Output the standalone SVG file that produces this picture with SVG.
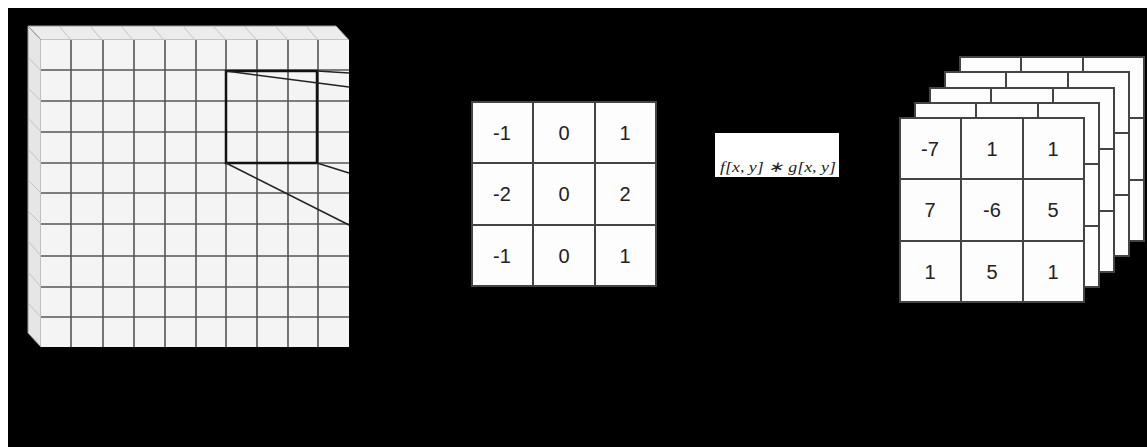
<svg xmlns="http://www.w3.org/2000/svg" width="1147" height="447" viewBox="0 0 1147 447">
<style>
.grid{stroke:#555;stroke-width:1.6;fill:none}
.faint{stroke:#c4c4c4;stroke-width:1;fill:none}
.cell{fill:#fdfdfd;stroke:#444;stroke-width:2}
.num{font-family:"Liberation Sans",Arial,sans-serif;font-size:20px;fill:#222;text-anchor:middle;dominant-baseline:central}
.conn{stroke:#222;stroke-width:1.5;fill:none}
</style>
<defs>
<g id="grid3">
<rect x="0" y="0" width="184" height="184" class="cell"/>
<path d="M61 0V184M123 0V184M0 61H184M0 123H184" style="stroke:#444;stroke-width:2;fill:none"/>
</g>
</defs>
<rect x="0" y="0" width="1147" height="447" fill="#fff"/>
<rect x="8" y="8" width="1139" height="439" fill="#000"/>

<g id="input-volume">
<polygon points="28,26 336,26 349,40 41,40" fill="#ececec" stroke="#999" stroke-width="1"/>
<polygon points="28,26 41,40 41,347 28,333" fill="#e6e6e6" stroke="#999" stroke-width="1"/>
<path class="faint" d="M59 26L71 40M90 26L102 40M121 26L133 40M152 26L164 40M183 26L195 40M213 26L226 40M244 26L257 40M275 26L288 40M306 26L318 40M28 57L41 71M28 88L41 101M28 118L41 132M28 149L41 163M28 180L41 193M28 211L41 224M28 241L41 256M28 272L41 287M28 303L41 317"/>
<rect x="41" y="40" width="308" height="307" fill="#f4f4f4"/>
<path class="grid" d="M71 40V347M103 40V347M134 40V347M165 40V347M196 40V347M226 40V347M257 40V347M288 40V347M318 40V347M41 70H349M41 101H349M41 132H349M41 163H349M41 193H349M41 224H349M41 256H349M41 287H349M41 317H349"/>
<rect x="226" y="71" width="91" height="92" fill="none" stroke="#111" stroke-width="2.5"/>
</g>

<g id="connectors">
<line class="conn" x1="226" y1="71" x2="349" y2="87"/>
<line class="conn" x1="317" y1="71" x2="349" y2="73"/>
<line class="conn" x1="317" y1="163" x2="349" y2="173"/>
<line class="conn" x1="226" y1="163" x2="349" y2="225"/>
</g>

<g id="kernel">
<use href="#grid3" x="472" y="102"/>
<text class="num" x="502" y="133">-1</text>
<text class="num" x="564" y="133">0</text>
<text class="num" x="625" y="133">1</text>
<text class="num" x="502" y="194">-2</text>
<text class="num" x="564" y="194">0</text>
<text class="num" x="625" y="194">2</text>
<text class="num" x="502" y="256">-1</text>
<text class="num" x="564" y="256">0</text>
<text class="num" x="625" y="256">1</text>
</g>

<g id="convolution-label">
<rect x="715" y="133" width="124" height="44" fill="#fff"/>
<text x="720" y="172" font-family="'Liberation Serif',serif" font-style="italic" font-size="15" fill="#222" textLength="116" lengthAdjust="spacingAndGlyphs">f[x, y] ∗ g[x, y]</text>
</g>

<g id="feature-maps">
<use href="#grid3" x="960" y="57"/>
<use href="#grid3" x="945" y="72"/>
<use href="#grid3" x="930" y="88"/>
<use href="#grid3" x="915" y="103"/>
<use href="#grid3" x="900" y="118"/>
<text class="num" x="930" y="149">-7</text>
<text class="num" x="992" y="149">1</text>
<text class="num" x="1053" y="149">1</text>
<text class="num" x="930" y="210">7</text>
<text class="num" x="992" y="210">-6</text>
<text class="num" x="1053" y="210">5</text>
<text class="num" x="930" y="272">1</text>
<text class="num" x="992" y="272">5</text>
<text class="num" x="1053" y="272">1</text>
</g>
</svg>
